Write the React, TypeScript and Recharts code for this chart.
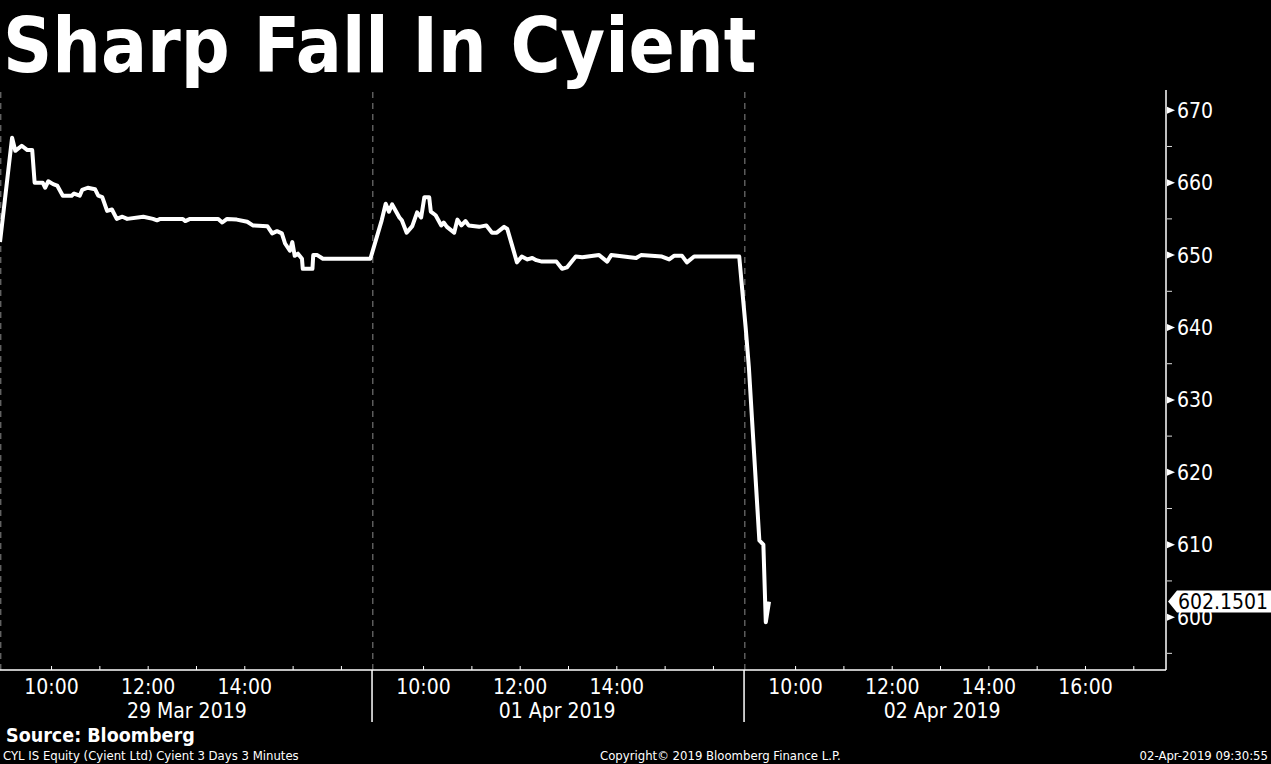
import React from 'react';
import { LineChart, Line, XAxis, YAxis, ReferenceLine, ReferenceDot } from 'recharts';

// CYL IS Equity, 3-minute bars, three sessions
const DAY_LABELS = ['29 Mar 2019', '01 Apr 2019', '02 Apr 2019'];

const day1Times = [
  '08:56', '09:11', '09:15', '09:23', '09:30', '09:36', '09:39', '09:49', '09:52', '09:56',
  '10:02', '10:07', '10:14', '10:25', '10:28', '10:35', '10:38', '10:45', '10:54', '10:58',
  '11:03', '11:09', '11:15', '11:21', '11:28', '11:34', '11:54', '12:06', '12:11', '12:15',
  '12:43', '12:46', '12:52', '13:27', '13:32', '13:38', '13:50', '14:03', '14:10', '14:28',
  '14:34', '14:40', '14:46', '14:50', '14:56', '14:59', '15:02', '15:06', '15:11', '15:12',
  '15:24', '15:25', '15:30', '15:37', '16:36',
];
const day1Prices = [
  651.8, 666.2, 664.4, 665.1, 664.5, 664.5, 660.0, 660.0, 659.3, 660.2,
  659.8, 659.6, 658.2, 658.2, 658.5, 658.2, 659.0, 659.3, 659.1, 658.2,
  658.0, 656.1, 656.3, 655.0, 655.3, 655.0, 655.3, 655.0, 654.8, 655.0,
  655.0, 654.7, 655.0, 655.0, 654.5, 655.0, 654.9, 654.6, 654.1, 654.0,
  653.0, 653.3, 653.0, 651.6, 650.6, 651.8, 649.9, 650.2, 649.5, 648.1,
  648.1, 650.0, 650.0, 649.5, 649.5,
];

const day2Times = [
  '09:08', '09:13', '09:17', '09:21', '09:30', '09:33', '09:39', '09:46', '09:52', '09:57',
  '10:01', '10:07', '10:09', '10:15', '10:22', '10:25', '10:29', '10:38', '10:42', '10:47',
  '10:52', '10:56', '11:09', '11:18', '11:25', '11:31', '11:40', '11:44', '11:50', '11:56',
  '12:02', '12:09', '12:15', '12:20', '12:27', '12:45', '12:52', '12:58', '13:09', '13:17',
  '13:38', '13:48', '13:53', '14:24', '14:30', '14:56', '15:05', '15:11', '15:21', '15:27',
  '15:36', '16:32',
];
const day2Prices = [
  654.8, 657.1, 656.0, 657.0, 655.2, 654.8, 653.1, 654.0, 655.9, 655.2,
  658.0, 658.0, 656.0, 655.5, 654.1, 654.5, 653.9, 653.1, 654.9, 654.1,
  654.7, 654.1, 653.9, 654.1, 653.1, 653.1, 653.9, 653.6, 651.3, 649.0,
  649.8, 649.4, 649.6, 649.3, 649.1, 649.1, 648.1, 648.3, 649.8, 649.7,
  650.0, 649.1, 650.0, 649.6, 650.0, 649.8, 649.4, 649.9, 649.9, 649.0,
  649.8, 649.8,
];

const day3Times = ['08:58', '09:02', '09:15', '09:20', '09:23', '09:27'];
const day3Prices = [640.0, 634.5, 610.6, 610.0, 599.3, 602.1501];

const LAST_PRICE = 602.1501;

const PRICE_TICKS = [595, 600, 605, 610, 615, 620, 625, 630, 635, 640, 645, 650, 655, 660, 665, 670];
const HOUR_TICKS = [
  [10, 11, 12, 13, 14, 15, 16],
  [10, 11, 12, 13, 14, 15, 16],
  [10, 11, 12, 13, 14, 15, 16, 17],
];
const HOUR_LABELS = [
  [10, 12, 14],
  [10, 12, 14],
  [10, 12, 14, 16],
];
const DAY_LABEL_TIMES = ['12:48', '12:46', '13:02'];

// each session gets a slot of the time axis starting at 08:56
const SLOT = 462;
const SLOT_START = 8 * 60 + 56;
const X_MAX = 1448;

const FONT = "'DejaVu Sans Condensed', 'DejaVu Sans', sans-serif";

const toMin = (t: string) => {
  const [h, m] = t.split(':').map(Number);
  return h * 60 + m;
};
const pos = (day: number, t: string) => day * SLOT + toMin(t) - SLOT_START;

const days = [
  { times: day1Times, prices: day1Prices },
  { times: day2Times, prices: day2Prices },
  { times: day3Times, prices: day3Prices },
];
const rows = days.flatMap((d, i) => d.times.map((t, j) => ({ x: pos(i, t), price: d.prices[j] })));

// tick kinds on the time axis
const tickInfo = new Map<number, { kind: string; label?: string }>();
HOUR_TICKS.forEach((hours, i) =>
  hours.forEach((h) => {
    const label = HOUR_LABELS[i].includes(h) ? `${h}:00` : undefined;
    tickInfo.set(pos(i, `${h}:00`), { kind: 'hour', label });
  })
);
[1, 2].forEach((i) => tickInfo.set(i * SLOT, { kind: 'day' }));
DAY_LABELS.forEach((label, i) => tickInfo.set(pos(i, DAY_LABEL_TIMES[i]), { kind: 'date', label }));
const X_TICKS = Array.from(tickInfo.keys()).sort((a, b) => a - b);

const textStyle = { fontStretch: 'condensed' as const };

function TimeTick(props: any) {
  const { x, y, payload } = props;
  const info = tickInfo.get(payload.value);
  if (!info) return null;
  if (info.kind === 'day') {
    return <line x1={x} x2={x} y1={y} y2={y + 52} stroke="#fff" strokeWidth={1.5} />;
  }
  if (info.kind === 'date') {
    return (
      <text x={x} y={y + 48} textAnchor="middle" fill="#fff" fontSize={21} fontFamily={FONT} style={textStyle}>
        {info.label}
      </text>
    );
  }
  return (
    <g>
      <line x1={x} x2={x} y1={y} y2={y - 4} stroke="#fff" strokeWidth={1} />
      {info.label && (
        <text x={x} y={y + 24} textAnchor="middle" fill="#fff" fontSize={21} fontFamily={FONT} style={textStyle}>
          {info.label}
        </text>
      )}
    </g>
  );
}

function PriceTick(props: any) {
  const { x, y, payload } = props;
  const v = payload.value;
  if (v % 10 !== 0) {
    return <line x1={x + 1} x2={x + 6} y1={y} y2={y} stroke="#ddd" strokeWidth={1} />;
  }
  return (
    <g>
      <polygon points={`${x + 1},${y - 3.5} ${x + 9},${y} ${x + 1},${y + 3.5}`} fill="#fff" />
      <text x={x + 11} y={y} dy="0.36em" fill="#fff" fontSize={21} fontFamily={FONT} style={textStyle}>
        {v}
      </text>
    </g>
  );
}

function LastPriceTag(props: any) {
  const { cx, cy } = props;
  const x = cx + 2;
  return (
    <g>
      <polygon
        points={`${x},${cy} ${x + 9},${cy - 11} ${x + 104},${cy - 11} ${x + 104},${cy + 11} ${x + 9},${cy + 11}`}
        fill="#fff"
      />
      <text x={x + 10} y={cy} dy="0.36em" fill="#000" fontSize={21} fontFamily={FONT} style={textStyle}>
        {LAST_PRICE.toFixed(4)}
      </text>
    </g>
  );
}

export default function App() {
  return (
    <div style={{ position: 'absolute', left: 0, top: 0, width: 1271, height: 764, background: '#000', overflow: 'hidden' }}>
      <LineChart width={1271} height={764} data={rows} margin={{ top: 90, right: 0, bottom: 0, left: 0 }}>
        <XAxis
          dataKey="x"
          type="number"
          domain={[0, X_MAX]}
          ticks={X_TICKS}
          interval={0}
          height={94}
          tickSize={0}
          tickMargin={0}
          tickLine={false}
          axisLine={{ stroke: '#fff', strokeWidth: 1.5 }}
          tick={<TimeTick />}
        />
        <YAxis
          orientation="right"
          type="number"
          domain={[592.7, 672.8]}
          ticks={PRICE_TICKS}
          interval={0}
          width={105}
          tickSize={0}
          tickMargin={0}
          tickLine={false}
          axisLine={{ stroke: '#fff', strokeWidth: 1.5 }}
          tick={<PriceTick />}
        />
        {[0, 1, 2].map((i) => (
          <ReferenceLine key={i} x={i * SLOT + 1} stroke="#8a8a8a" strokeDasharray="6 5" strokeWidth={1} />
        ))}
        <Line
          type="linear"
          dataKey="price"
          stroke="#fff"
          strokeWidth={4}
          strokeLinejoin="round"
          dot={false}
          isAnimationActive={false}
        />
        <ReferenceDot x={X_MAX} y={LAST_PRICE} ifOverflow="visible" shape={<LastPriceTag />} />
      </LineChart>
      <svg width={1271} height={764} style={{ position: 'absolute', left: 0, top: 0, pointerEvents: 'none' }}>
        <text x={3} y={72} fill="#fff" fontSize={76} fontWeight="bold" fontFamily={FONT} style={textStyle}>
          Sharp Fall In Cyient
        </text>
        <text x={6} y={742} fill="#fff" fontSize={19.5} fontWeight="bold" fontFamily={FONT} style={textStyle}>
          Source: Bloomberg
        </text>
        <text x={3} y={760} fill="#fff" fontSize={13} fontFamily={FONT} style={textStyle}>
          CYL IS Equity (Cyient Ltd) Cyient 3 Days 3 Minutes
        </text>
        <text x={600} y={760} fill="#fff" fontSize={13} fontFamily={FONT} style={textStyle}>
          Copyright© 2019 Bloomberg Finance L.P.
        </text>
        <text x={1268} y={760} textAnchor="end" fill="#fff" fontSize={13} fontFamily={FONT} style={textStyle}>
          02-Apr-2019 09:30:55
        </text>
      </svg>
    </div>
  );
}
